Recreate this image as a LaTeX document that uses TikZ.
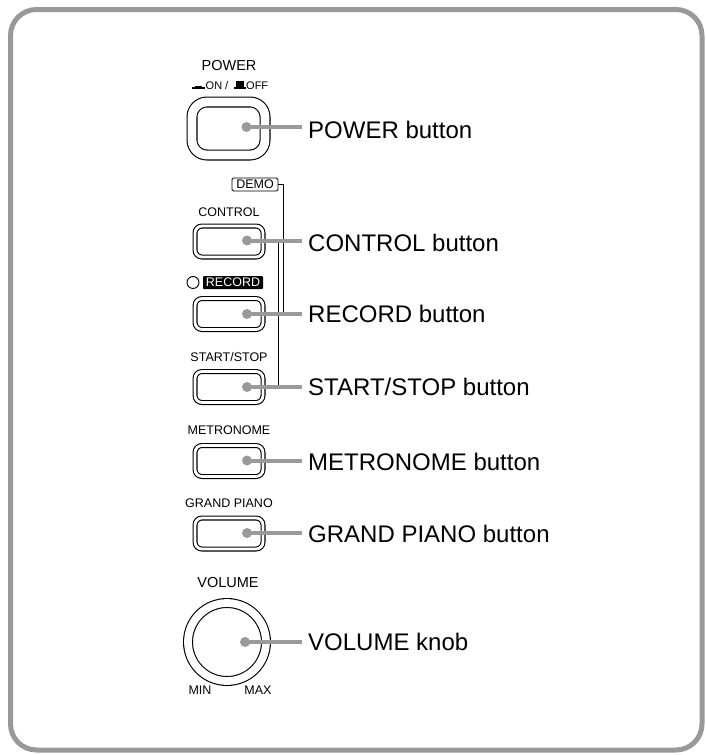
\documentclass[tikz,border=0pt]{standalone}
\usepackage{fontspec}
\setmainfont{Liberation Sans}
\definecolor{framegray}{HTML}{999999}
\definecolor{leadgray}{HTML}{9A9A9A}
\begin{document}
\begin{tikzpicture}[x=1pt,y=-1pt,
  btn/.style={draw,line width=1.1pt,double,double distance=2.8pt,rounded corners=7pt,
    minimum width=68pt,minimum height=31pt,inner sep=0pt},
  dot/.style={circle,fill=leadgray,minimum size=10pt,inner sep=0pt},
  lead/.style={draw=leadgray,line width=4pt},
  lbl/.style={anchor=west,font=\fontsize{24}{28}\selectfont,inner xsep=6pt,inner ysep=0pt,
    text height=17pt,text depth=0pt},
  captxt/.style={font=\fontsize{12.5}{14}\selectfont,inner sep=0pt},
  bigcaptxt/.style={font=\fontsize{14.5}{16}\selectfont,inner sep=0pt},
  smalltxt/.style={font=\fontsize{11}{12}\selectfont,inner sep=0pt}]
  \useasboundingbox (0,0) rectangle (706,755);

  % Panel frame
  \draw[framegray,line width=5pt,rounded corners=26pt] (10.5,9.5) rectangle (702,750);

  % Captions above the controls
  \node[bigcaptxt] (powercap) at (229,66) {POWER};
  \fill (192,87.3) rectangle (205,88.8);
  \fill (195,85.8) rectangle (202,88.8);
  \node[smalltxt,anchor=west] (oncap) at (205.5,86) {ON /};
  \fill (234,87.3) rectangle (246,88.8);
  \fill (236,81) rectangle (244,88.8);
  \node[smalltxt,anchor=west] (offcap) at (246,86) {OFF};
  \node[captxt,draw,line width=0.9pt,rounded corners=1.5pt,minimum width=46pt,minimum height=13pt]
    (democap) at (255,184.5) {DEMO};
  \node[captxt] (controlcap) at (229,212) {CONTROL};
  \draw[line width=0.9pt,fill=white] (193,282.5) circle (6);
  \node[captxt,fill=black,text=white,rounded corners=1pt,minimum width=60pt,minimum height=13pt]
    (recordcap) at (233,282.5) {RECORD};
  \node[captxt] (startstopcap) at (229,357) {START/STOP};
  \node[captxt] (metronomecap) at (229,430) {METRONOME};
  \node[captxt] (grandcap) at (229,503) {GRAND PIANO};
  \node[bigcaptxt] (volumecap) at (228,583) {VOLUME};
  \node[captxt] (mincap) at (200,690) {MIN};
  \node[captxt] (maxcap) at (258,690) {MAX};

  % Controls
  \node[btn,minimum width=73pt,minimum height=53pt,double distance=8.8pt,rounded corners=15pt]
    (power) at (228.5,128.5) {};
  \foreach \n/\y in {control/241.5,record/314,startstop/387,metronome/461,grand/533.5}
    \node[btn] (\n) at (229,\y) {};
  \node[draw,circle,line width=1.1pt,double,double distance=7.8pt,minimum size=78pt,inner sep=0pt]
    (volume) at (227,642) {};

  % Labels
  \node[lbl] (powerlbl) at (302,130) {POWER button};
  \node[lbl] (controllbl) at (302,242.5) {CONTROL button};
  \node[lbl] (recordlbl) at (302,314) {RECORD button};
  \node[lbl] (startstoplbl) at (302,387) {START/STOP button};
  \node[lbl] (metronomelbl) at (302,461.5) {METRONOME button};
  \node[lbl] (grandlbl) at (302,534) {GRAND PIANO button};
  \node[lbl] (volumelbl) at (302,642) {VOLUME knob};

  % DEMO brackets
  \coordinate (demoend) at (283,314);
  \coordinate (combtop) at (278,242.5);
  \coordinate (combend) at (278,387);
  \draw[line width=0.9pt] (democap.east) -| (demoend);
  \draw[line width=0.9pt] (combtop) -- (combend);

  % Leader lines
  \foreach \n/\dy in {power/1.5,control/1,record/0,startstop/0,metronome/0.5,grand/0.5,volume/0}{
    \node[dot] (\n-dot) at ([xshift=18pt,yshift=\dy pt]\n.center) {};
    \draw[lead] (\n-dot.center) -- (\n-dot.center -| \n lbl.west);
  }
\end{tikzpicture}
\end{document}
